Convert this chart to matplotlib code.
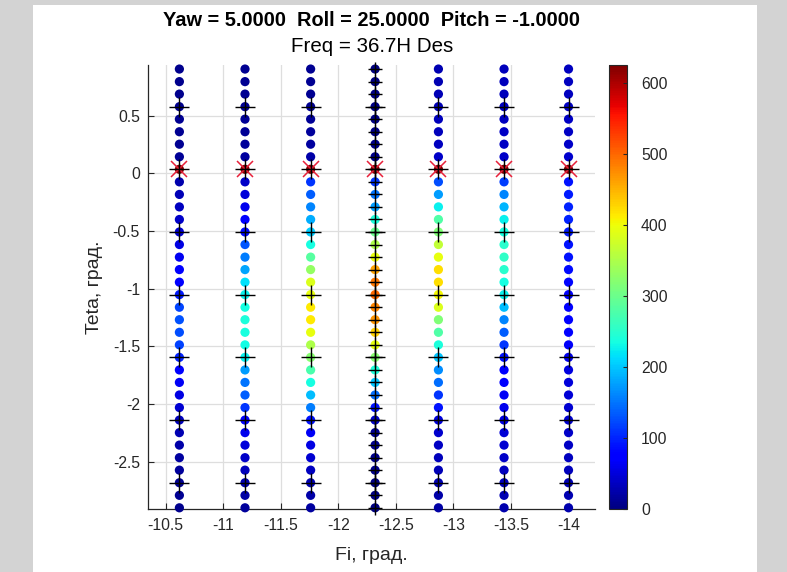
import matplotlib
matplotlib.use("Agg")
import matplotlib.pyplot as plt
from matplotlib.patches import Rectangle
from matplotlib.colors import Normalize
import numpy as np

plt.rcParams['font.family'] = ['Liberation Sans', 'DejaVu Sans']
plt.rcParams['axes.unicode_minus'] = False

# Grid of measurement points
fi_cols = [-10.62, -11.19, -11.76, -12.32, -12.87, -13.44, -14.00]
theta_rows = [0.903, 0.794, 0.686, 0.577, 0.469, 0.360, 0.252, 0.143, 0.035,
              -0.074, -0.183, -0.291, -0.400, -0.508, -0.617, -0.726, -0.834,
              -0.943, -1.051, -1.160, -1.268, -1.377, -1.486, -1.594, -1.703,
              -1.811, -1.920, -2.029, -2.137, -2.246, -2.354, -2.463, -2.571,
              -2.680, -2.789, -2.897]

# Amplitude along each Fi column (top to bottom)
amp_c1 = [8, 8, 9, 9, 10, 11, 12, 14, 625, 25, 30, 35, 40, 45, 55, 62, 70, 80,
          95, 120, 128, 125, 118, 100, 80, 65, 55, 45, 35, 28, 22, 18, 15, 12, 10, 8]
amp_c2 = [10, 10, 11, 12, 13, 14, 16, 18, 625, 40, 50, 60, 70, 85, 130, 155, 180, 215,
          225, 235, 240, 238, 232, 225, 175, 150, 135, 110, 75, 60, 50, 40, 32, 25, 20, 15]
amp_c3 = [10, 10, 11, 12, 14, 16, 18, 22, 625, 110, 135, 160, 185, 205, 235, 285, 330, 385,
          395, 415, 415, 395, 350, 320, 275, 235, 195, 155, 90, 65, 55, 45, 35, 28, 22, 18]
amp_c4 = [2, 2, 3, 3, 4, 4, 5, 6, 625, 110, 150, 175, 240, 300, 350, 395, 460, 490,
          500, 480, 470, 430, 395, 320, 240, 200, 145, 90, 40, 10, 8, 6, 5, 4, 3, 2]
amp_c5 = [28, 28, 30, 30, 32, 34, 36, 40, 625, 125, 175, 225, 280, 315, 365, 395, 420, 420,
          405, 385, 315, 280, 240, 200, 165, 145, 110, 90, 50, 42, 38, 34, 30, 27, 24, 20]
amp_c6 = [32, 33, 34, 35, 36, 37, 38, 40, 625, 115, 160, 190, 225, 235, 250, 255, 250, 235,
          225, 195, 160, 135, 110, 90, 75, 70, 65, 60, 55, 48, 44, 40, 36, 32, 28, 25]
amp_c7 = [35, 35, 36, 37, 38, 39, 40, 42, 625, 90, 95, 100, 100, 95, 90, 88, 85, 82,
          80, 75, 72, 70, 68, 60, 52, 50, 48, 46, 44, 40, 38, 35, 32, 30, 28, 25]
amp_columns = [amp_c1, amp_c2, amp_c3, amp_c4, amp_c5, amp_c6, amp_c7]

# Reference marks
cross_theta = [0.577, 0.035, -0.508, -1.051, -1.594, -2.137, -2.680]
star_theta = 0.035
center_fi = -12.32

x_ticks = [-10.5, -11, -11.5, -12, -12.5, -13, -13.5, -14]
y_ticks = [-2.5, -2, -1.5, -1, -0.5, 0, 0.5]
cbar_ticks = [0, 100, 200, 300, 400, 500, 600]
c_max = 625

W, H = 787, 572
fig = plt.figure(figsize=(W / 100, H / 100), dpi=100)
fig.patch.set_facecolor('#d3d3d3')
fig.patches.append(Rectangle((33 / W, 0), (757 - 33) / W, (572 - 5) / H,
                             transform=fig.transFigure, facecolor='white',
                             edgecolor='none', zorder=-10))

def px_box(x0, y0, x1, y1):
    return [x0 / W, 1 - y1 / H, (x1 - x0) / W, (y1 - y0) / H]

ax = fig.add_axes(px_box(148.3, 65, 595, 509.3))
cax = fig.add_axes(px_box(609, 65, 627, 509.3))
ax.set_zorder(2)
cax.set_zorder(2)

norm = Normalize(0, c_max)
cmap = plt.get_cmap('jet')

for fi, amps in zip(fi_cols, amp_columns):
    ax.scatter([fi] * len(theta_rows), theta_rows, c=amps, cmap=cmap, norm=norm,
               s=44, edgecolors='face', linewidths=0, zorder=3, clip_on=False)

# dense crosses along the central column
ax.plot([center_fi] * len(theta_rows), theta_rows, linestyle='none', marker='+',
        markersize=9.5, color='black', mew=1.0, zorder=5, clip_on=False)

for fi in fi_cols:
    ax.plot([fi], [star_theta], linestyle='none', marker='x', markersize=11,
            color='#e8203a', mew=1.1, zorder=4)
    ax.plot([fi] * len(cross_theta), cross_theta, linestyle='none', marker='+',
            markersize=14.5, color='black', mew=1.0, zorder=6, clip_on=False)

ax.set_xlim(-10.35, -14.23)
ax.set_ylim(-2.91, 0.938)
ax.set_xticks(x_ticks)
ax.set_xticklabels(['%g' % v for v in x_ticks])
ax.set_yticks(y_ticks)
ax.set_yticklabels(['%g' % v for v in y_ticks])
ax.grid(True, color='#dedede', linewidth=0.9, zorder=0)
ax.set_axisbelow(True)
ax.patch.set_alpha(0)
for side in ('top', 'right'):
    ax.spines[side].set_visible(False)
for side in ('left', 'bottom'):
    ax.spines[side].set_color('#262626')
    ax.spines[side].set_linewidth(0.9)
ax.tick_params(direction='in', length=4, width=0.8, color='#262626',
               labelsize=11.3, labelcolor='#262626', pad=6)
ax.set_xlabel('Fi, град.', fontsize=14, color='#262626', labelpad=10)
ax.set_ylabel('Teta, град.', fontsize=14, color='#262626', labelpad=7)

sm = plt.cm.ScalarMappable(norm=norm, cmap=cmap)
cb = fig.colorbar(sm, cax=cax, ticks=cbar_ticks)
cb.outline.set_linewidth(0.8)
cb.outline.set_edgecolor('#262626')
cax.tick_params(direction='in', length=3, width=0.8, color='#262626',
                labelsize=11.3, labelcolor='#262626', pad=10)

cx = (148.3 + 595) / 2 / W
fig.text(cx, 1 - 20 / H, 'Yaw = 5.0000  Roll = 25.0000  Pitch = -1.0000',
         ha='center', va='center', fontsize=14.4, fontweight='bold', color='black')
fig.text(cx, 1 - 46 / H, 'Freq = 36.7H Des', ha='center', va='center',
         fontsize=14.8, color='black')

fig.savefig('out.png', dpi=100, facecolor=fig.get_facecolor())
